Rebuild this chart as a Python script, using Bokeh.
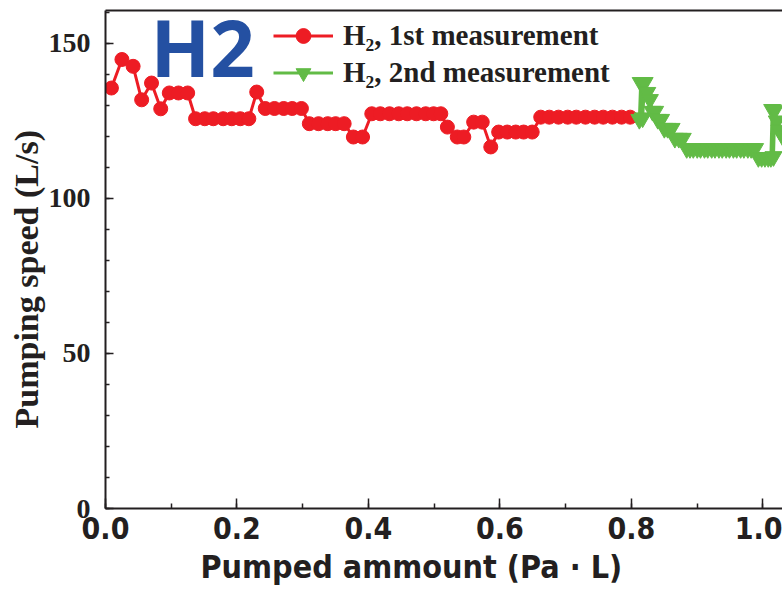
from bokeh.plotting import figure
from bokeh.models import (Range1d, SingleIntervalTicker, FixedTicker, LinearAxis,
                          Legend, LegendItem, Label, Title, PrintfTickFormatter)
from bokeh.embed import file_html
from bokeh.resources import INLINE

# H2 pumping speed vs pumped amount, two measurement runs
first_x = [0.009, 0.025, 0.042, 0.055, 0.070, 0.084, 0.097, 0.111, 0.125, 0.137,
           0.151, 0.164, 0.179, 0.192, 0.205, 0.218, 0.230, 0.243, 0.257, 0.271,
           0.284, 0.298, 0.310, 0.324, 0.338, 0.350, 0.363, 0.377, 0.391, 0.405,
           0.418, 0.432, 0.446, 0.459, 0.473, 0.487, 0.499, 0.510, 0.520, 0.535,
           0.545, 0.560, 0.573, 0.586, 0.598, 0.611, 0.624, 0.636, 0.649, 0.662,
           0.675, 0.689, 0.703, 0.716, 0.730, 0.744, 0.757, 0.771, 0.785, 0.798]
first_y = [135.6, 144.8, 142.6, 131.8, 137.2, 128.9, 134.0, 134.0, 134.0, 125.7,
           125.7, 125.7, 125.7, 125.7, 125.7, 125.7, 134.3, 129.0, 129.0, 129.0,
           129.0, 129.0, 124.1, 124.1, 124.1, 124.1, 124.1, 119.8, 119.8, 127.3,
           127.3, 127.3, 127.3, 127.3, 127.3, 127.3, 127.3, 127.3, 123.0, 119.8,
           119.8, 124.6, 124.6, 116.6, 121.4, 121.4, 121.4, 121.4, 121.4, 126.2,
           126.2, 126.2, 126.2, 126.2, 126.2, 126.2, 126.2, 126.2, 126.2, 126.2]

second_x = [0.812, 0.814, 0.817, 0.820, 0.824, 0.828, 0.832, 0.836, 0.840, 0.845,
            0.850, 0.855, 0.861, 0.866, 0.872, 0.878, 0.884, 0.889, 0.894, 0.900,
            0.905, 0.911, 0.916, 0.922, 0.927, 0.933, 0.938, 0.944, 0.949, 0.955,
            0.960, 0.966, 0.971, 0.977, 0.982, 0.988, 0.993, 0.998, 1.003, 1.008,
            1.012, 1.014, 1.016, 1.018, 1.021, 1.025, 1.030]
second_y = [125.5, 137.4, 126.0, 137.4, 134.2, 131.9, 128.1, 128.1, 125.5, 125.5,
            122.6, 122.6, 122.6, 119.4, 119.4, 119.4, 116.1, 116.1, 116.1, 116.1,
            116.1, 116.1, 116.1, 116.1, 116.1, 116.1, 116.1, 116.1, 116.1, 116.1,
            116.1, 116.1, 116.1, 116.1, 116.1, 116.1, 113.2, 113.2, 113.2, 113.2,
            113.2, 128.7, 113.5, 128.5, 125.0, 122.0, 120.0]

series_labels = ["H\u2082, 1st measurement", "H\u2082, 2nd measurement"]
title_text = "H2"
x_title = "Pumped ammount (Pa \u00b7 L)"
y_title = "Pumping speed (L/s)"

RED = "#ed1c24"
GREEN = "#62bb46"
BLUE = "#2450a2"
INK = "#231f20"
SERIF = "Liberation Serif"
CONDENSED = "DejaVu Sans Condensed"

p = figure(width=782, height=590, output_backend="svg", toolbar_location=None,
           x_range=Range1d(0, 1.0297), y_range=Range1d(0, 160.6),
           x_axis_location=None, y_axis_location=None,
           min_border_left=105, min_border_right=0, min_border_top=10,
           min_border_bottom=82)
p.grid.visible = False
p.outline_line_color = None
p.background_fill_color = "white"

yaxis = LinearAxis(ticker=SingleIntervalTicker(interval=50, num_minor_ticks=5))
xaxis = LinearAxis(ticker=SingleIntervalTicker(interval=0.2, num_minor_ticks=2),
                   formatter=PrintfTickFormatter(format="%.1f"))
for ax in (xaxis, yaxis):
    ax.axis_line_width = 2
    ax.axis_line_color = INK
    ax.major_tick_line_width = 1.5
    ax.minor_tick_line_width = 1.5
    ax.major_tick_line_color = INK
    ax.minor_tick_line_color = INK
    ax.major_tick_out = 0
    ax.minor_tick_out = 0
    ax.major_label_text_color = INK
yaxis.major_tick_in = 8
yaxis.minor_tick_in = 4
xaxis.major_tick_in = 10
xaxis.minor_tick_in = 5
yaxis.major_label_text_font = SERIF
yaxis.major_label_text_font_style = "bold"
yaxis.major_label_text_font_size = "28px"
yaxis.major_label_standoff = 15
xaxis.major_label_text_font = CONDENSED
xaxis.major_label_text_font_style = "bold"
xaxis.major_label_text_font_size = "30px"
xaxis.major_label_standoff = 8
p.add_layout(yaxis, "left")
p.add_layout(xaxis, "below")

# axis titles as side-panel titles so they can be shifted along the axis
p.add_layout(Title(text=x_title, text_font=CONDENSED, text_font_style="bold",
                   text_font_size="32px", text_color=INK, align="left",
                   offset=95, standoff=9), "below")
p.add_layout(Title(text=y_title, text_font=SERIF, text_font_style="bold",
                   text_font_size="34px", text_color=INK, align="left",
                   offset=80, standoff=2), "left")

top = LinearAxis(ticker=FixedTicker(ticks=[]), axis_line_width=2,
                 axis_line_color=INK, major_label_text_font_size="0px",
                 major_label_standoff=0, major_tick_out=0, minor_tick_out=0)
p.add_layout(top, "above")

r1_line = p.line(first_x, first_y, color=RED, line_width=3)
r1_pts = p.scatter(first_x, first_y, marker="circle", size=14, color=RED)
r2_line = p.line(second_x, second_y, color=GREEN, line_width=3)
r2_pts = p.scatter(second_x, second_y, marker="inverted_triangle", size=17, color=GREEN)

legend = Legend(items=[LegendItem(label=series_labels[0], renderers=[r1_line, r1_pts]),
                       LegendItem(label=series_labels[1], renderers=[r2_line, r2_pts])],
                location=(168, 417), glyph_width=60, glyph_height=37,
                label_height=37, spacing=0, padding=0, margin=0,
                border_line_color=None, background_fill_alpha=0,
                label_standoff=10, label_text_font=SERIF,
                label_text_font_style="bold", label_text_font_size="29px",
                label_text_color=INK)
p.add_layout(legend)

p.add_layout(Label(x=45, y=409, x_units="screen", y_units="screen", text=title_text,
                   text_font="Open Sans", text_font_style="bold",
                   text_font_size="78px", text_color=BLUE, text_baseline="bottom"))

open("out.html", "w").write(file_html(p, INLINE))
